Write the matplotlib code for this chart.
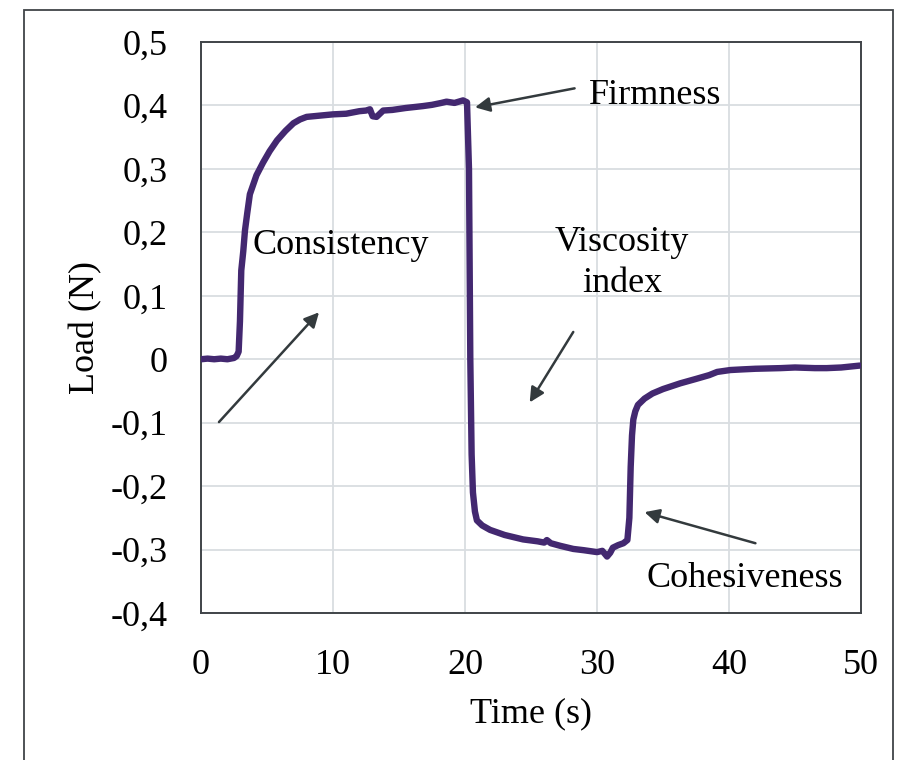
import matplotlib
matplotlib.use('Agg')
import matplotlib.pyplot as plt
import matplotlib.ticker as ticker
from matplotlib.patches import Rectangle

plt.rcParams['font.family'] = ['Liberation Serif', 'DejaVu Serif']

# time (s) and load (N)
time_s = [0.0, 0.5, 1.0, 1.5, 2.0, 2.5, 2.7, 2.85, 2.95, 3.05, 3.2, 3.33, 3.5, 3.7,
          4.2, 4.7, 5.2, 5.76, 6.4, 7.0, 7.5, 8.0, 9.0, 10.0, 11.0, 12.0, 12.5,
          12.8, 13.0, 13.3, 13.8, 14.5, 15.5, 16.8, 17.5, 18.2, 18.6, 19.2, 19.85,
          20.15, 20.3, 20.4, 20.5, 20.6, 20.75, 20.9, 21.3, 21.9, 23.0, 24.4,
          25.5, 26.0, 26.2, 26.5, 27.2, 28.2, 29.0, 30.0, 30.4, 30.76, 31.0, 31.2,
          31.6, 32.0, 32.3, 32.45, 32.55, 32.65, 32.75, 32.9, 33.1, 33.6, 34.2,
          35.0, 36.3, 37.5, 38.5, 39.1, 40.1, 41.0, 42.0, 43.9, 45.0, 46.5, 47.4,
          48.5, 49.9]
load_n = [0.0, 0.001, 0.0, 0.001, 0.0, 0.002, 0.005, 0.012, 0.06, 0.14, 0.17, 0.203,
          0.23, 0.26, 0.29, 0.31, 0.328, 0.345, 0.36, 0.372, 0.378, 0.382, 0.384,
          0.386, 0.387, 0.391, 0.392, 0.394, 0.383, 0.382, 0.392, 0.393, 0.396,
          0.399, 0.401, 0.404, 0.406, 0.404, 0.408, 0.405, 0.30, 0.0, -0.15,
          -0.21, -0.24, -0.254, -0.262, -0.269, -0.277, -0.284, -0.287, -0.289,
          -0.285, -0.29, -0.294, -0.299, -0.301, -0.304, -0.302, -0.311, -0.305,
          -0.297, -0.293, -0.29, -0.285, -0.25, -0.17, -0.12, -0.095, -0.082,
          -0.072, -0.062, -0.054, -0.047, -0.038, -0.031, -0.025, -0.02, -0.017,
          -0.016, -0.015, -0.014, -0.013, -0.014, -0.014, -0.013, -0.01]

x_ticks = [0, 10, 20, 30, 40, 50]
y_ticks = [0.5, 0.4, 0.3, 0.2, 0.1, 0.0, -0.1, -0.2, -0.3, -0.4]

# annotations: label, text position, arrow tail, arrow head
notes = [
    ("Firmness", (34.4, 0.416), (28.3, 0.427), (20.76, 0.397)),
    ("Consistency", (10.6, 0.18), (1.36, -0.099), (8.94, 0.074)),
    ("Viscosity\nindex", (31.9, 0.152), (28.2, 0.043), (24.9, -0.068)),
    ("Cohesiveness", (41.2, -0.345), (42.0, -0.29), (33.6, -0.241)),
]

LINE_COLOR = '#432870'
DARK = '#333a3d'
FS = 26


def comma_fmt(v, pos):
    if abs(v) < 1e-9:
        return '0'
    return f"{v:.1f}".replace('.', ',')


fig = plt.figure(figsize=(8.97, 7.60), dpi=100)
ax = fig.add_axes([0.2241, 0.1934, 0.9599 - 0.2241, 0.9447 - 0.1934])

ax.plot(time_s, load_n, color=LINE_COLOR, linewidth=4.6,
        solid_joinstyle='round', solid_capstyle='round', zorder=3)

ax.set_xlim(0, 50)
ax.set_ylim(-0.4, 0.5)
ax.set_xticks(x_ticks)
ax.set_yticks(y_ticks)
ax.yaxis.set_major_formatter(ticker.FuncFormatter(comma_fmt))
ax.tick_params(length=0, labelsize=FS)
ax.tick_params(axis='y', pad=24)
ax.tick_params(axis='x', pad=26)

ax.grid(True, color='#d9dde1', linewidth=1.3, zorder=0)
for s in ax.spines.values():
    s.set_color('#404448')
    s.set_linewidth(1.4)

ax.set_xlabel("Time (s)", fontsize=FS, labelpad=11)
ax.set_ylabel("Load (N)", fontsize=FS, labelpad=6)

for label, txt, tail, head in notes:
    ax.annotate('', xy=head, xytext=tail,
                arrowprops=dict(arrowstyle='-|>', color=DARK, lw=1.8,
                                mutation_scale=22, shrinkA=0, shrinkB=0))
    ax.text(txt[0], txt[1], label, fontsize=FS, ha='center', va='center',
            linespacing=1.3)

# outer frame around the figure
fig.patches.append(Rectangle((24 / 897, -0.05), (893 - 24) / 897, 1 - 10 / 760 + 0.05,
                             transform=fig.transFigure, fill=False,
                             edgecolor='#404448', linewidth=1.3))

fig.savefig('out.png', dpi=100)
